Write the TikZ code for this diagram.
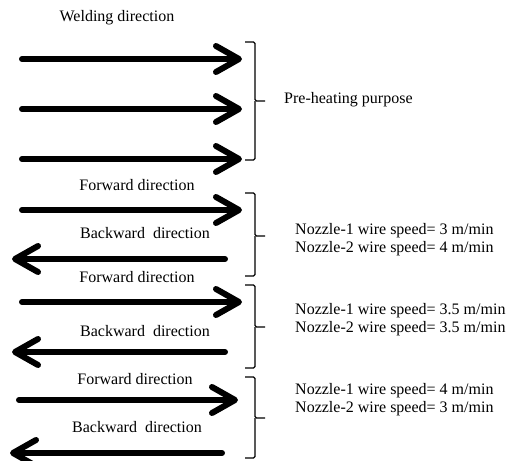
\documentclass[tikz,border=0pt]{standalone}
\usepackage{fontspec}
\setmainfont{Liberation Serif}
\usetikzlibrary{arrows.meta, positioning}
\tikzstyle{lbl} = [inner sep=0pt, font=\fontsize{16}{18}\selectfont]
\tikzstyle{note} = [inner sep=0pt, anchor=west, align=left, font=\fontsize{16}{18}\selectfont]
\tikzstyle{fat} = [line width=6pt, line cap=round, -{Straight Barb[length=23pt, width=26pt, line cap=round, line join=round]}]
\tikzstyle{brace} = [line width=1.3pt, rounded corners=1.5pt]
\newcommand{\bracket}[3]{% top, mid, bottom
    \draw [brace] (245,#1) -- (255,#1) -- (255,#2) -- (265,#2);
    \draw [brace] (255,#2) -- (255,#3) -- (245,#3);}

\begin{document}
\begin{tikzpicture}[x=1pt, y=-1pt]
    \useasboundingbox (0,0) rectangle (515,461);
    % Labels
    \node (weld) [lbl] at (117,18) {Welding direction};
    \node (fwd1) [lbl] at (137,185) {Forward direction};
    \node (bwd1) [lbl] at (145,233) {Backward\ \ direction};
    \node (fwd2) [lbl] at (137,277) {Forward direction};
    \node (bwd2) [lbl] at (145,331) {Backward\ \ direction};
    \node (fwd3) [lbl] at (135,379) {Forward direction};
    \node (bwd3) [lbl] at (137,427) {Backward\ \ direction};
    \node (pre) [note] at (284,100) {Pre-heating purpose};
    \node (set1) [note] at (295,240) {Nozzle-1 wire speed= 3 m/min\\Nozzle-2 wire speed= 4 m/min};
    \node (set2) [note] at (295,320) {Nozzle-1 wire speed= 3.5 m/min\\Nozzle-2 wire speed= 3.5 m/min};
    \node (set3) [note] at (295,400) {Nozzle-1 wire speed= 4 m/min\\Nozzle-2 wire speed= 3 m/min};

    % Arrows
    \draw [fat] (22,59) -- (242,59);
    \draw [fat] (22,109) -- (242,109);
    \draw [fat] (22,159) -- (242,159);
    \draw [fat] (22,210) -- (242,210);
    \draw [fat] (225,259) -- (12,259);
    \draw [fat] (22,302) -- (242,302);
    \draw [fat] (225,352) -- (12,352);
    \draw [fat] (19,400) -- (238,400);
    \draw [fat] (222,453) -- (10,453);

    % Brackets
    \bracket{42}{101}{160}
    \bracket{193}{236}{276}
    \bracket{285}{327}{368}
    \bracket{377}{418}{458}
\end{tikzpicture}
\end{document}
